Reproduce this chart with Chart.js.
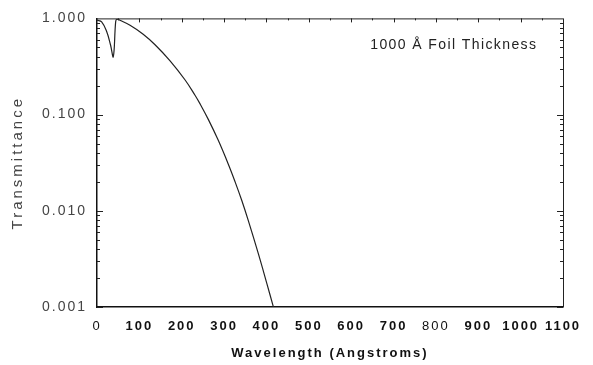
<!DOCTYPE html>
<html>
<head>
<meta charset="utf-8">
<script src="https://cdn.jsdelivr.net/npm/chart.js@4/dist/chart.umd.min.js"></script>
<style>
  html, body { margin: 0; padding: 0; background: #fff; }
</style>
</head>
<body>
<canvas id="graphId" width="593" height="365" style="width:593px;height:365px"></canvas>
<script>
// values
var wavelength = [0, 11, 23, 32, 38.5, 44, 46.5, 54, 78, 109, 137, 172, 208, 231, 243, 263, 286, 310, 326, 342, 357, 381, 401, 415, 418];
var transmittance = [0.96, 0.92, 0.726, 0.529, 0.40, 0.92, 0.98, 0.958, 0.847, 0.684, 0.532, 0.364, 0.229, 0.160, 0.130, 0.0887, 0.0543, 0.0305, 0.0200, 0.0127, 0.00794, 0.00356, 0.00175, 0.00105, 0.00094];
var yTicks = [0.001, 0.01, 0.1, 1];
var xTicks = [0, 100, 200, 300, 400, 500, 600, 700, 800, 900, 1000, 1100];
var yTitle = 'Transmittance';
var note = '1000 Å Foil Thickness';

var points = [];
for (var i = 0; i < wavelength.length; i++) {
    points.push({x: wavelength[i], y: transmittance[i]});
}

var FONT = '"Liberation Sans", Arial, sans-serif';

// spaced-out lettering and inside tick marks on the frame, like the original plot
var frameTicks = {
    id: 'frameTicks',
    beforeDraw: function(chart) {
        chart.ctx.letterSpacing = '2px';
    },
    afterDraw: function(chart) {
        var ctx = chart.ctx;
        var xs = chart.scales.x, ys = chart.scales.y;
        var a = chart.chartArea;
        ctx.save();
        ctx.strokeStyle = '#222';
        ctx.lineWidth = 1;
        ctx.beginPath();
        ctx.moveTo(a.left, a.top + 0.5); ctx.lineTo(a.right, a.top + 0.5);
        ctx.moveTo(a.right + 0.5, a.top); ctx.lineTo(a.right + 0.5, a.bottom);
        for (var d = 0.001; d < 0.9; d *= 10) {
            for (var m = 1; m < 10; m++) {
                var py = Math.round(ys.getPixelForValue(d * m)) + 0.5;
                var len = m === 1 ? 6 : 3;
                ctx.moveTo(a.left, py); ctx.lineTo(a.left + len, py);
                ctx.moveTo(a.right, py); ctx.lineTo(a.right - len, py);
            }
        }
        for (var w = 50; w < 1100; w += 50) {
            var px = Math.round(xs.getPixelForValue(w)) + 0.5;
            var l2 = w % 100 === 0 ? 4 : 2;
            ctx.moveTo(px, a.top); ctx.lineTo(px, a.top + l2);
        }
        ctx.stroke();

        ctx.fillStyle = '#222';
        ctx.letterSpacing = '1.4px';
        ctx.font = '14px ' + FONT;
        ctx.textAlign = 'left';
        ctx.textBaseline = 'middle';
        ctx.fillText(note, xs.getPixelForValue(645), ys.getPixelForValue(0.53));

        ctx.fillStyle = '#444';
        ctx.letterSpacing = '3px';
        ctx.font = '15px ' + FONT;
        ctx.textAlign = 'center';
        ctx.translate(18, (a.top + a.bottom) / 2);
        ctx.rotate(-Math.PI / 2);
        ctx.fillText(yTitle, 0, 0);
        ctx.restore();
        ctx.letterSpacing = '0px';
    }
};

var ctx = document.getElementById('graphId').getContext('2d');
var myChart = new Chart(ctx, {
    type: 'line',
    data: {
        datasets: [{
            data: points,
            borderColor: '#222',
            borderWidth: 1.2,
            pointRadius: 0,
            tension: 0.4,
            fill: false
        }]
    },
    options: {
        responsive: false,
        animation: false,
        layout: { padding: { top: 16, right: 30, left: 0, bottom: 0 } },
        plugins: { legend: { display: false }, tooltip: { enabled: false } },
        scales: {
            x: {
                type: 'linear',
                min: 0,
                max: 1100,
                afterBuildTicks: function(axis) {
                    axis.ticks = xTicks.map(function(v) { return {value: v}; });
                },
                afterFit: function(axis) { axis.height = 58; },
                grid: { display: false, drawTicks: false },
                border: { display: true, color: '#111', width: 1.5 },
                ticks: {
                    padding: 12,
                    maxRotation: 0,
                    autoSkip: false,
                    color: '#111',
                    font: function(c) {
                        var v = c.tick ? c.tick.value : 1;
                        var light = (v === 0 || v === 800);
                        return { family: FONT, size: 13, weight: light ? 'normal' : 'bold' };
                    },
                    callback: function(v) { return String(v); }
                },
                title: {
                    display: true,
                    text: 'Wavelength (Angstroms)',
                    color: '#111',
                    padding: { top: 2 },
                    font: { family: FONT, size: 13, weight: 'bold' }
                }
            },
            y: {
                type: 'logarithmic',
                min: 0.001,
                max: 1,
                afterBuildTicks: function(axis) {
                    axis.ticks = yTicks.map(function(v) { return {value: v}; });
                },
                afterFit: function(axis) { axis.width = 97; },
                grid: { display: false, drawTicks: false },
                border: { display: true, color: '#111', width: 1.5 },
                ticks: {
                    padding: 10,
                    color: '#444',
                    font: { family: FONT, size: 14 },
                    callback: function(v) { return Number(v).toFixed(3); }
                },
                title: { display: false }
            }
        }
    },
    plugins: [frameTicks]
});
</script>
</body>
</html>
